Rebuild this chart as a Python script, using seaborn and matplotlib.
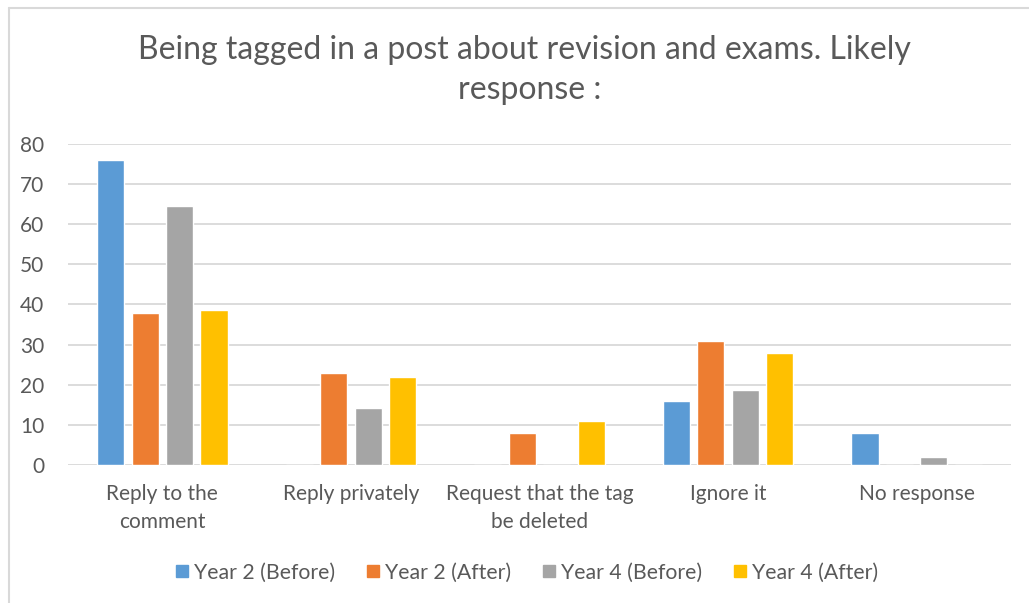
import matplotlib
matplotlib.use("Agg")
import matplotlib.pyplot as plt
import seaborn as sns
import pandas as pd
from matplotlib.lines import Line2D

categories = ["Reply to the\ncomment", "Reply privately", "Request that the tag\nbe deleted",
              "Ignore it", "No response"]
series = ["Year 2 (Before)", "Year 2 (After)", "Year 4 (Before)", "Year 4 (After)"]
year2_before = [76, 0, 0, 16, 8]
year2_after = [38, 23, 8, 31, 0]
year4_before = [64.5, 14.3, 0, 18.6, 2]
year4_after = [38.7, 22, 11, 28, 0]
colors = ["#5B9BD5", "#ED7D31", "#A5A5A5", "#FFC000"]

rows = []
for name, vals in zip(series, [year2_before, year2_after, year4_before, year4_after]):
    for cat, v in zip(categories, vals):
        rows.append({"Response": cat, "Group": name, "Value": v})
df = pd.DataFrame(rows)

sns.set_style("white")
plt.rcParams["font.family"] = ["Lato", "DejaVu Sans"]
text_col = "#595959"

fig = plt.figure(figsize=(10.29, 6.03), dpi=100)
ax = fig.add_axes([0.0661, 0.2289, 0.9164, 0.5323])

sns.barplot(data=df, x="Response", y="Value", hue="Group", palette=colors,
            width=0.73, gap=0.21, ax=ax, legend=False, saturation=1)

ax.set_ylim(0, 80)
ax.set_yticks(range(0, 81, 10))
ax.set_xlim(-0.5, 4.5)
ax.yaxis.grid(True, color="#D9D9D9", linewidth=1.3)
ax.set_axisbelow(True)
for s in ax.spines.values():
    s.set_visible(False)
ax.set_xlabel("")
ax.set_ylabel("")
ax.tick_params(axis="both", length=0, labelsize=15, colors=text_col)
ax.tick_params(axis="x", pad=14)
ax.tick_params(axis="y", pad=17)
for lbl in ax.get_xticklabels():
    lbl.set_linespacing(1.45)

fig.text(0.51, 0.917, "Being tagged in a post about revision and exams. Likely",
         ha="center", va="center", fontsize=23, color=text_col)
fig.text(0.515, 0.851, "response :", ha="center", va="center", fontsize=23, color=text_col)

handles = [Line2D([], [], marker="s", linestyle="", markersize=8.5, color=c) for c in colors]
fig.legend(handles, series, loc="center", bbox_to_anchor=(0.51, 0.05), ncol=4, frameon=False,
           fontsize=15.3, labelcolor=text_col, handletextpad=0.05, handlelength=1.0,
           columnspacing=1.3)

# chart area border
fig.add_artist(Line2D([8.5 / 1029, 8.5 / 1029], [0, 1 - 8 / 603], transform=fig.transFigure,
                      color="#D9D9D9", linewidth=1.5))
fig.add_artist(Line2D([8.5 / 1029, 1], [1 - 8 / 603, 1 - 8 / 603], transform=fig.transFigure,
                      color="#D9D9D9", linewidth=1.5))

fig.savefig("out.png", dpi=100)
